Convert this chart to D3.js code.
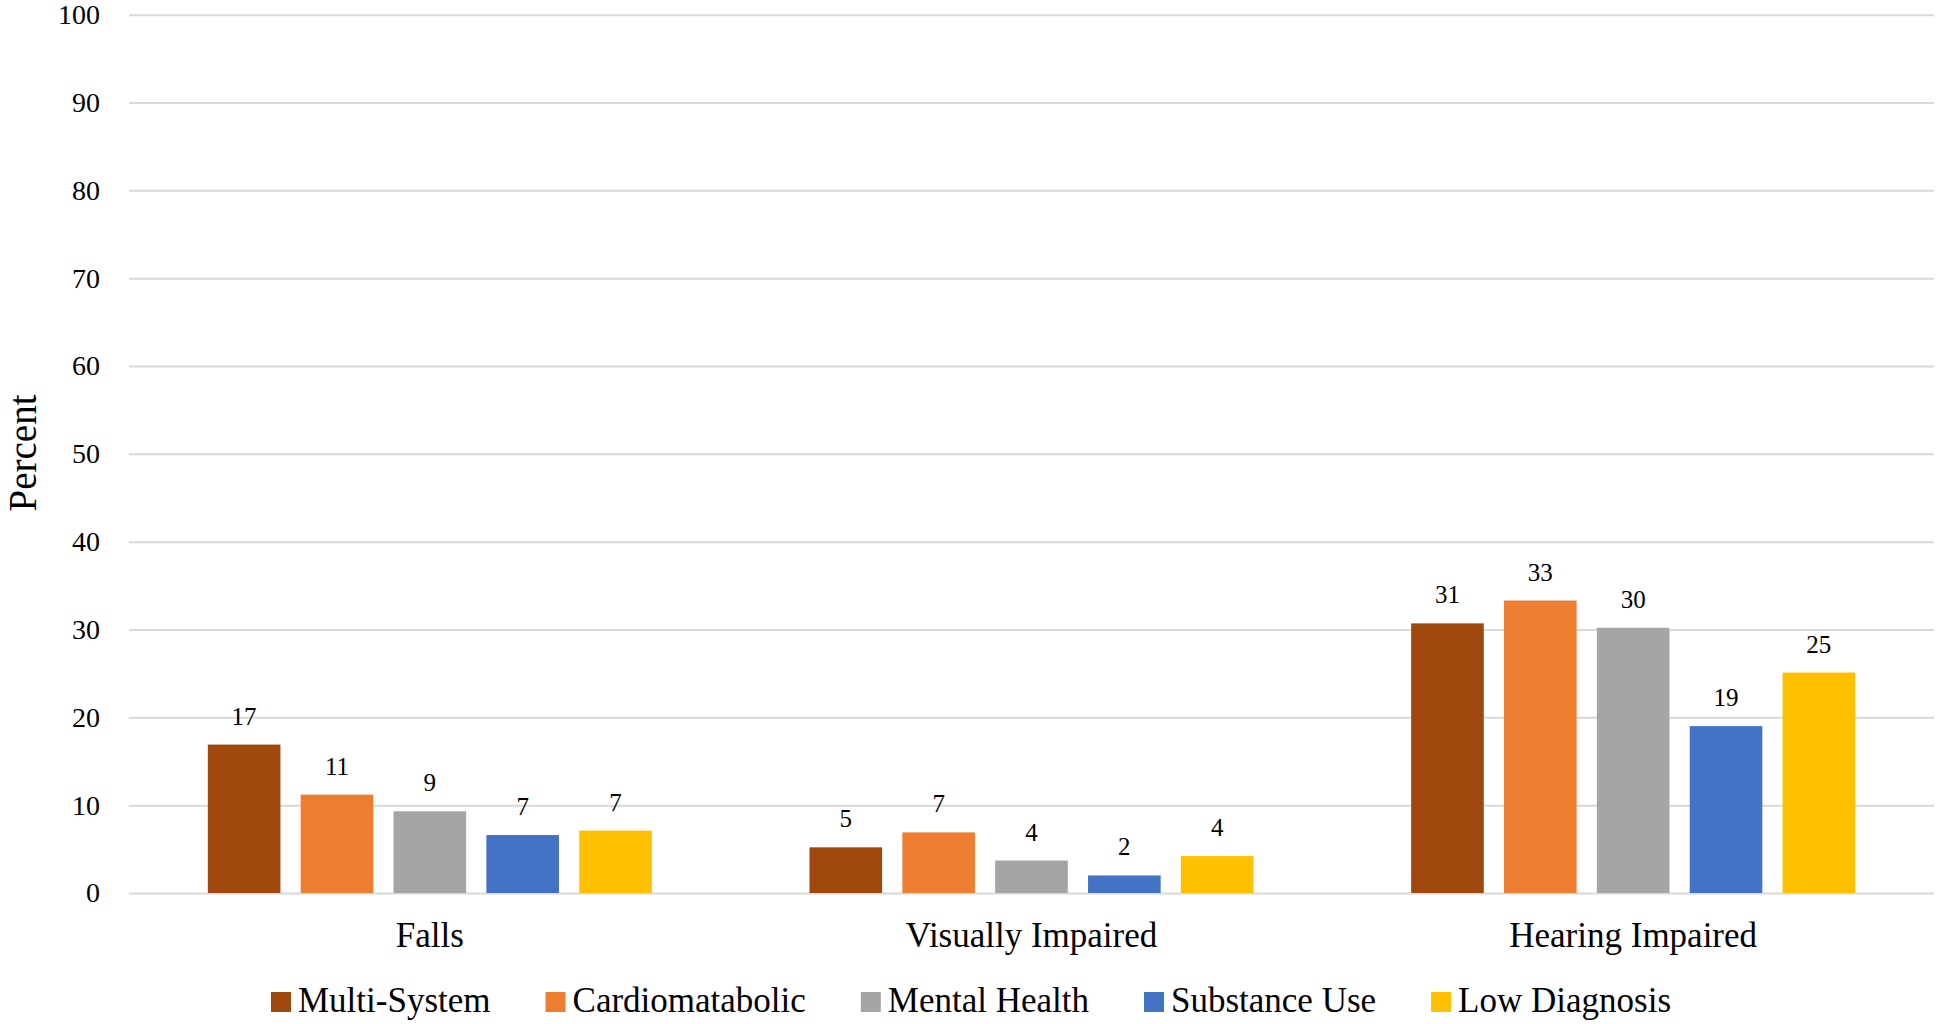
<!DOCTYPE html>
<html>
<head>
<meta charset="utf-8">
<script src="https://cdn.jsdelivr.net/npm/d3@7"></script>
<style>
  html, body { margin: 0; padding: 0; background: #fff; }
  svg { display: block; }
  svg text { font-family: "Liberation Serif", "DejaVu Serif", serif !important; fill: #000; }
</style>
</head>
<body>
<svg id="chart" width="1936" height="1024"></svg>
<script>
// Categories along the x axis
const categories = ["Falls", "Visually Impaired", "Hearing Impaired"];

// Series names and colours
const seriesNames = ["Multi-System", "Cardiomatabolic", "Mental Health", "Substance Use", "Low Diagnosis"];
const seriesColors = ["#9E480E", "#ED7D31", "#A5A5A5", "#4472C4", "#FFC000"];

// Percent values per series, one per category
const multiSystem     = [16.9, 5.2, 30.7];
const cardiomatabolic = [11.2, 6.9, 33.3];
const mentalHealth    = [9.3, 3.7, 30.2];
const substanceUse    = [6.6, 2.0, 19.0];
const lowDiagnosis    = [7.1, 4.2, 25.1];

// Y axis ticks
const yTicks = [0, 10, 20, 30, 40, 50, 60, 70, 80, 90, 100];

const seriesValues = [multiSystem, cardiomatabolic, mentalHealth, substanceUse, lowDiagnosis];

const FONT = '"Liberation Serif", "DejaVu Serif", serif';
const svg = d3.select("#chart").style("font-family", FONT);
const plot = { left: 129, right: 1934, top: 14.7, bottom: 893 };

const y = d3.scaleLinear().domain([0, 100]).range([plot.bottom, plot.top]);

const x0 = d3.scaleBand()
  .domain(categories)
  .range([plot.left, plot.right])
  .paddingInner(0.262)
  .paddingOuter(0.131);

const x1 = d3.scaleBand()
  .domain(seriesNames)
  .range([0, x0.bandwidth()])
  .paddingInner(0.218);

const color = d3.scaleOrdinal().domain(seriesNames).range(seriesColors);

// Gridlines and y tick labels
const yAxis = svg.append("g")
  .attr("transform", `translate(${plot.left},0)`)
  .call(d3.axisLeft(y)
    .tickValues(yTicks)
    .tickSize(-(plot.right - plot.left))
    .tickPadding(29));
yAxis.attr("font-family", FONT);
yAxis.select(".domain").remove();
yAxis.selectAll(".tick line").attr("stroke", "#d9d9d9").attr("stroke-width", 2);
yAxis.selectAll(".tick text")
  .style("font-family", FONT)
  .style("font-size", "28px")
  .attr("fill", "#000");

// Y axis title
svg.append("text")
  .attr("transform", `translate(36,453) rotate(-90)`)
  .attr("text-anchor", "middle")
  .style("font-size", "39px")
  .text("Percent");

// Bars
const rows = categories.map((c, i) => ({
  category: c,
  values: seriesNames.map((s, j) => ({ series: s, value: seriesValues[j][i] }))
}));

const groups = svg.append("g").selectAll("g")
  .data(rows)
  .join("g")
  .attr("transform", d => `translate(${x0(d.category)},0)`);

groups.selectAll("rect")
  .data(d => d.values)
  .join("rect")
  .attr("x", d => x1(d.series))
  .attr("y", d => y(d.value))
  .attr("width", x1.bandwidth())
  .attr("height", d => y(0) - y(d.value))
  .attr("fill", d => color(d.series));

// Value labels above bars
groups.selectAll("text.value")
  .data(d => d.values)
  .join("text")
  .attr("class", "value")
  .attr("x", d => x1(d.series) + x1.bandwidth() / 2)
  .attr("y", d => y(d.value) - 20)
  .attr("text-anchor", "middle")
  .style("font-family", FONT)
  .style("font-size", "25px")
  .text(d => d3.format(".0f")(d.value));

// Category axis labels
const xAxis = svg.append("g")
  .attr("transform", `translate(0,${plot.bottom})`)
  .call(d3.axisBottom(x0).tickSize(0));
xAxis.attr("font-family", FONT);
xAxis.select(".domain").remove();
xAxis.selectAll(".tick text")
  .attr("y", 54)
  .attr("dy", null)
  .style("font-family", FONT)
  .style("font-size", "35px")
  .attr("fill", "#000");

// Legend
const legend = svg.append("g");
const items = legend.selectAll("g")
  .data(seriesNames)
  .join("g");
items.append("rect")
  .attr("width", 20)
  .attr("height", 20)
  .attr("y", 992)
  .attr("fill", d => color(d));
items.append("text")
  .attr("x", 27)
  .attr("y", 1012)
  .style("font-family", FONT)
  .style("font-size", "35px")
  .text(d => d);

const gap = 55;
let cursor = 0;
items.each(function () {
  const g = d3.select(this);
  const w = 27 + g.select("text").node().getComputedTextLength();
  g.attr("transform", `translate(${cursor},0)`);
  cursor += w + gap;
});
const legendWidth = cursor - gap;
legend.attr("transform", `translate(${971 - legendWidth / 2},0)`);
</script>
</body>
</html>
